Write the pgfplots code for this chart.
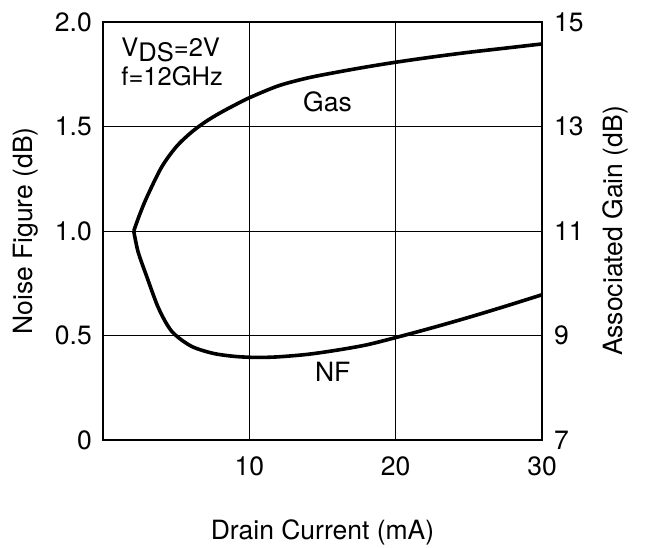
\documentclass[border=0pt]{standalone}
\usepackage{fontspec}
\setmainfont{TeX Gyre Heros}
\usepackage{pgfplots}
\pgfplotsset{compat=1.18}
\newcommand\fs{\fontsize{26.5}{31}\selectfont}
\newcommand\fa{\fontsize{25.5}{30}\selectfont}
\begin{document}
\begin{tikzpicture}
\useasboundingbox (-103pt,-108pt) rectangle (542pt,440pt);
\begin{axis}[
  at={(0,0)}, anchor=south west,
  scale only axis, width=439pt, height=418pt,
  xmin=0, xmax=30, ymin=0, ymax=2,
  xtick={10,20,30}, xticklabels={10,20,30},
  ytick={0,0.5,1,1.5,2}, yticklabels={0,0.5,1.0,1.5,2.0},
  grid=major, grid style={black, line width=0.9pt},
  major tick length=0pt,
  axis line style={line width=2.4pt},
  /pgf/number format/assume math mode=true,
  tick label style={font=\fs},
  xticklabel style={anchor=base, yshift=-36pt, inner sep=0pt},
  yticklabel style={anchor=east, inner sep=0pt, xshift=-11pt},
  xlabel={Drain Current (mA)}, ylabel={Noise Figure (dB)},
  label style={font=\fs},
  xlabel style={at={(axis description cs:0.5,-0.239)}, anchor=base},
  ylabel style={at={(axis description cs:-0.177,0.5)}, anchor=center},
]
\addplot[black, line width=3.6pt, smooth, line join=round] coordinates {
(2.1,1.0) (2.4,0.90) (3.0,0.78) (3.8,0.63) (4.7,0.52) (6.0,0.45) (7.5,0.415)
(9.0,0.40) (10.5,0.395) (12,0.398) (14,0.41) (16,0.43) (18,0.455) (20,0.49)
(22.5,0.537) (25,0.587) (27.5,0.64) (30,0.695)};
\node[anchor=base west, inner sep=0pt, font=\fa] at (axis cs:1.25,1.835) {V\raisebox{-5pt}{DS}=2V};
\node[anchor=base west, inner sep=0pt, font=\fa] at (axis cs:1.25,1.695) {f=12GHz};
\node[anchor=base, inner sep=0pt, font=\fs] at (axis cs:15.34,1.574) {Gas};
\node[anchor=base, inner sep=0pt, font=\fs] at (axis cs:15.7,0.278) {NF};
\end{axis}
\begin{axis}[
  at={(0,0)}, anchor=south west,
  scale only axis, width=439pt, height=418pt,
  xmin=0, xmax=30, ymin=7, ymax=15,
  xtick=\empty, ytick={7,9,11,13,15},
  yticklabel pos=right,
  major tick length=0pt,
  axis line style={line width=2.4pt},
  /pgf/number format/assume math mode=true,
  tick label style={font=\fs},
  yticklabel style={anchor=west, inner sep=0pt, xshift=12pt},
  ylabel={Associated Gain (dB)},
  label style={font=\fs},
  ylabel style={at={(axis description cs:1.168,0.5)}, anchor=center, rotate=0},
]
\addplot[black, line width=3.6pt, smooth, line join=round] coordinates {
(2.1,11.0) (2.5,11.31) (3.0,11.65) (4.0,12.22) (5.0,12.61) (6.0,12.88) (7.0,13.09)
(8.0,13.26) (9.0,13.41) (10,13.55) (12,13.78) (14,13.93) (16,14.04) (18,14.14)
(20,14.23) (22.5,14.33) (25,14.42) (27.5,14.50) (30,14.58)};
\end{axis}
\end{tikzpicture}
\end{document}
